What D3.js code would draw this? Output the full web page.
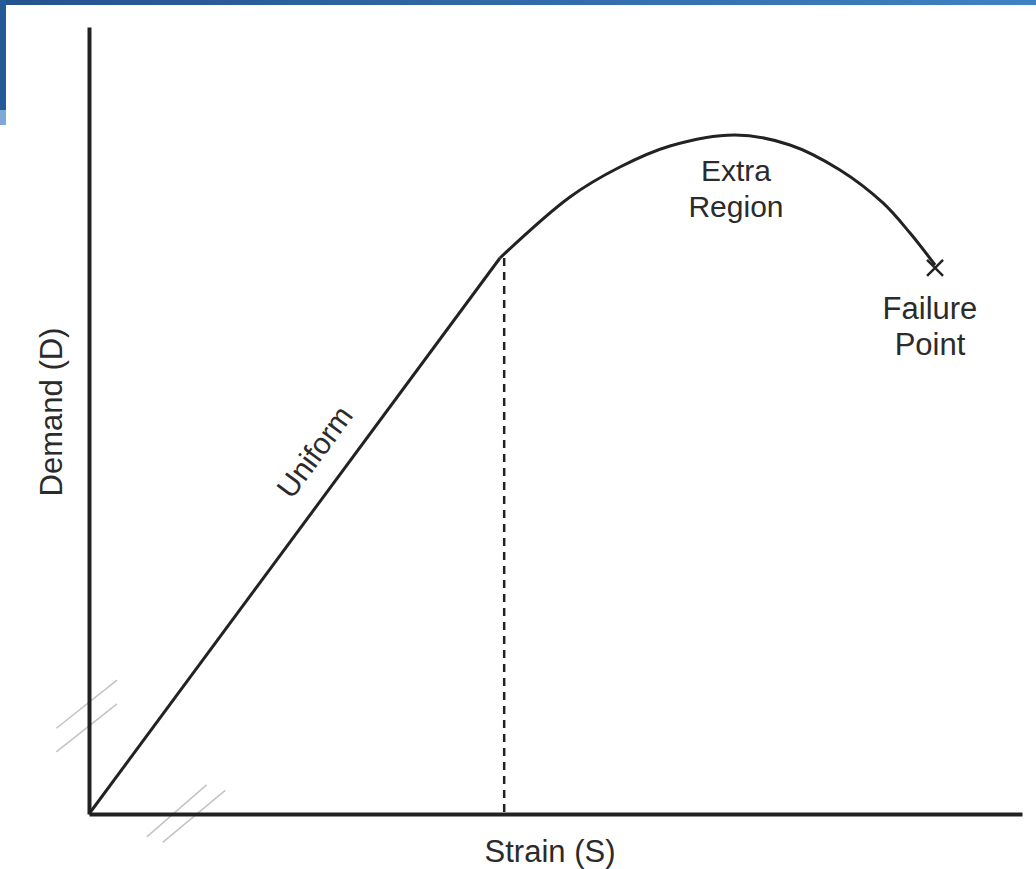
<!DOCTYPE html>
<html>
<head>
<meta charset="utf-8">
<script src="https://cdn.jsdelivr.net/npm/d3@7"></script>
<style>
  html, body { margin: 0; padding: 0; background: #fff; }
  svg { display: block; }
  text { font-family: "Liberation Sans", Arial, sans-serif; fill: #2b2b2b; }
  .axis path.domain { stroke: #222; stroke-width: 4; }
</style>
</head>
<body>
<div id="chart"></div>
<script>
// demand vs strain (0-100 on both axes)
var uniformStrain = [0, 44.05];
var uniformDemand = [0, 70.65];

var extraStrain = [44.05, 51.55, 56.91, 62.27, 69.24, 75.13, 80.49, 85.10, 88.0, 90.68];
var extraDemand = [70.65, 78.40, 82.21, 84.88, 86.28, 85.01, 81.83, 77.64, 73.82, 69.76];

var yieldStrain = 44.5;
var failure = { strain: 90.68, demand: 69.4 };

var xLabel = "Strain (S)";
var yLabel = "Demand (D)";
var uniformLabel = "Uniform";
var extraLabel = ["Extra", "Region"];
var failureLabel = ["Failure", "Point"];

var w = 1036;
var h = 869;

var xScale = d3.scaleLinear().domain([0, 100]).range([89, 1022]);
var yScale = d3.scaleLinear().domain([0, 100]).range([814, 27]);

var svg = d3.select("#chart")
    .append("svg")
    .attr("width", w)
    .attr("height", h);

// slide decoration (blue frame corner)
var grad = svg.append("defs").append("linearGradient")
    .attr("id", "topbar").attr("x1", "0").attr("x2", "1");
grad.append("stop").attr("offset", "0").attr("stop-color", "#24528f");
grad.append("stop").attr("offset", "1").attr("stop-color", "#3f82c2");
svg.append("rect").attr("x", 0).attr("y", 0).attr("width", w).attr("height", 5).attr("fill", "url(#topbar)");
svg.append("rect").attr("x", 0).attr("y", 0).attr("width", 6).attr("height", 110).attr("fill", "#255a98");
svg.append("rect").attr("x", 0).attr("y", 110).attr("width", 6).attr("height", 15).attr("fill", "#7ea9d6");

// axis break marks
function breakMarks(pairs) {
    svg.selectAll(null)
        .data(pairs)
        .enter().append("line")
        .attr("x1", function(d) { return xScale(d[0]); })
        .attr("y1", function(d) { return yScale(d[1]); })
        .attr("x2", function(d) { return xScale(d[2]); })
        .attr("y2", function(d) { return yScale(d[3]); })
        .attr("stroke", "#c4c4c4")
        .attr("stroke-width", 1.5);
}
breakMarks([
    [-3.5, 10.9, 3.0, 17.0],
    [-3.5, 7.9, 3.0, 14.0],
    [6.2, -2.9, 12.6, 3.7],
    [7.9, -3.6, 14.6, 3.0]
]);

svg.append("g")
    .attr("class", "axis")
    .attr("transform", "translate(" + xScale(0) + ",0)")
    .call(d3.axisLeft(yScale).tickValues([]).tickSizeOuter(0));

svg.append("g")
    .attr("class", "axis")
    .attr("transform", "translate(0," + yScale(0) + ")")
    .call(d3.axisBottom(xScale).tickValues([]).tickSizeOuter(0));

// dashed yield line
svg.append("line")
    .attr("x1", xScale(yieldStrain))
    .attr("x2", xScale(yieldStrain))
    .attr("y1", yScale(uniformDemand[1]))
    .attr("y2", yScale(0))
    .attr("stroke", "#222")
    .attr("stroke-width", 2.5)
    .attr("stroke-dasharray", "8,6");

var line = d3.line()
    .x(function(d) { return xScale(d[0]); })
    .y(function(d) { return yScale(d[1]); });

svg.append("path")
    .datum(d3.zip(uniformStrain, uniformDemand))
    .attr("d", line)
    .attr("fill", "none")
    .attr("stroke", "#222")
    .attr("stroke-width", 3);

svg.append("path")
    .datum(d3.zip(extraStrain, extraDemand))
    .attr("d", line.curve(d3.curveCatmullRom))
    .attr("fill", "none")
    .attr("stroke", "#222")
    .attr("stroke-width", 3);

// failure marker
var fx = xScale(failure.strain), fy = yScale(failure.demand);
svg.append("path")
    .attr("d", "M" + (fx - 8) + "," + (fy - 8) + "L" + (fx + 8) + "," + (fy + 8) +
               "M" + (fx + 8) + "," + (fy - 8) + "L" + (fx - 8) + "," + (fy + 8))
    .attr("stroke", "#222")
    .attr("stroke-width", 2.5);

// labels
svg.append("text")
    .attr("x", 550)
    .attr("y", 862)
    .attr("text-anchor", "middle")
    .style("font-size", "31px")
    .text(xLabel);

svg.append("text")
    .attr("transform", "translate(62," + 412 + ") rotate(-90)")
    .attr("text-anchor", "middle")
    .style("font-size", "31px")
    .text(yLabel);

var ang = Math.atan2(yScale(0) - yScale(uniformDemand[1]), xScale(uniformStrain[1]) - xScale(0)) * 180 / Math.PI;
svg.append("text")
    .attr("transform", "translate(323,458) rotate(" + (-ang) + ")")
    .attr("text-anchor", "middle")
    .style("font-size", "30px")
    .text(uniformLabel);

svg.selectAll("text.extra")
    .data(extraLabel)
    .enter().append("text")
    .attr("class", "extra")
    .attr("x", 736)
    .attr("y", function(d, i) { return 181 + i * 36; })
    .attr("text-anchor", "middle")
    .style("font-size", "30px")
    .text(function(d) { return d; });

svg.selectAll("text.failure")
    .data(failureLabel)
    .enter().append("text")
    .attr("class", "failure")
    .attr("x", 930)
    .attr("y", function(d, i) { return 319 + i * 36; })
    .attr("text-anchor", "middle")
    .style("font-size", "31px")
    .text(function(d) { return d; });
</script>
</body>
</html>
